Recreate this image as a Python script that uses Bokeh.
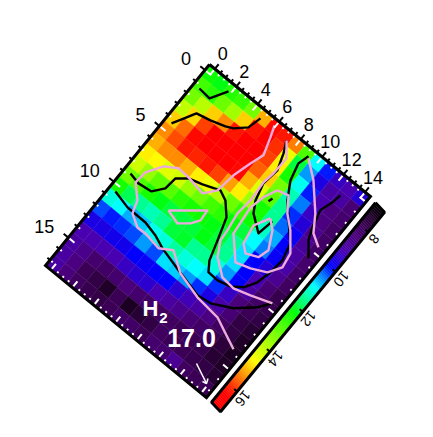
import numpy as np
from bokeh.plotting import figure
from bokeh.models import LinearColorMapper
from bokeh.transform import transform
from bokeh.core.properties import value
from bokeh.embed import file_html
from bokeh.resources import INLINE

x_ticks = [0, 2, 4, 6, 8, 10, 12, 14]
y_ticks = [0, 5, 10, 15]
bar_ticks = [8, 10, 12, 14, 16]
species = "H"
species_sub = "2"
wavelength = "17.0"
vmin, vmax = 7.0, 17.0

row00 = [12.4,12.2,12.6,12.8,13.4,15.2,16.3,16.2,15.5,13.0,11.0,10.1,9.4,9.2,9.6]
row01 = [12.9,12.7,13.3,13.8,15.0,16.2,16.5,16.0,14.5,12.0,10.6,9.7,9.1,9.0,8.4]
row02 = [13.4,14.0,15.0,15.4,16.2,16.6,16.6,15.9,14.8,12.5,11.1,10.1,9.2,8.6,8.3]
row03 = [14.1,14.9,15.9,16.5,16.9,16.9,16.7,15.7,15.0,13.4,11.4,10.5,9.4,8.6,8.2]
row04 = [15.0,15.6,16.3,16.7,17.0,16.8,16.3,15.2,14.4,13.1,11.6,10.2,9.6,8.7,8.2]
row05 = [15.4,15.8,16.2,16.1,16.2,15.9,15.3,14.8,13.8,12.5,11.6,10.4,9.9,8.9,8.2]
row06 = [15.2,15.4,15.4,15.2,14.8,14.5,13.9,13.3,12.8,12.4,11.3,10.7,10.0,9.0,8.3]
row07 = [14.8,14.7,14.4,14.3,13.7,13.3,12.9,12.7,12.3,12.0,11.0,10.5,9.9,9.1,8.2]
row08 = [14.2,13.7,13.2,13.1,12.7,12.5,12.4,12.2,12.0,11.6,10.9,10.0,9.6,8.8,8.1]
row09 = [13.4,13.0,12.5,12.2,12.0,12.0,12.0,12.2,12.0,11.6,10.9,10.0,9.2,8.4,7.9]
row10 = [12.5,11.9,11.6,11.4,11.6,12.0,12.1,11.6,11.6,11.2,10.6,10.0,9.0,8.2,7.9]
row11 = [11.2,11.0,10.7,10.8,11.1,11.2,11.5,11.2,11.0,10.9,10.2,9.4,8.5,8.0,7.8]
row12 = [10.3,10.1,10.2,10.3,10.6,10.3,10.9,10.8,10.6,10.2,9.7,9.1,8.4,7.8,7.6]
row13 = [9.7,9.7,9.8,9.8,10.0,9.9,10.0,10.0,9.5,9.3,9.0,8.6,8.1,7.8,7.5]
row14 = [9.2,9.2,9.2,9.2,9.4,9.5,9.5,9.2,9.0,8.7,8.4,8.2,8.0,7.7,7.4]
row15 = [9.0,8.7,8.3,8.2,8.3,8.5,8.3,8.2,8.1,8.1,8.0,8.0,7.9,7.6,7.5]
row16 = [9.0,8.6,8.0,7.8,7.5,8.0,7.4,7.6,7.8,8.1,8.0,8.0,7.9,7.8,7.6]
row17 = [9.0,8.5,8.1,7.9,7.8,8.0,8.2,8.2,8.0,8.3,8.3,8.8,8.1,8.0,8.0]
rows = [row00,row01,row02,row03,row04,row05,row06,row07,row08,row09,row10,row11,row12,row13,row14,row15,row16,row17]

black1 = [(.53,1.73),(1.55,1.82),(2.29,.61)]
black2 = [(.56,4.83),(1.01,4.04),(1.50,3.20),(2.60,2.96),(3.71,2.62),(4.25,2.37),(5.04,1.66),(5.30,.65)]
black3 = [(.55,9.32),(1.45,9.50),(2.54,9.36),(3.18,8.59),(3.29,7.61),(4.02,7.03),(5.07,6.74),(6.34,6.27),(7.08,6.59),
          (7.91,7.45),(8.46,9.08),(8.92,10.51),(9.40,11.19),(10.28,11.23),(11.27,10.98),(12.05,10.45),(12.60,9.57),
          (12.86,8.47),(12.99,7.30),(12.66,6.03),(11.51,4.88),(10.54,3.86),(9.80,2.66),(9.47,1.39),(9.71,.57)]
black4 = [(7.76,.68),(8.18,1.51),(8.61,2.69),(8.42,4.00),(8.76,5.27),(9.24,6.05),(10.42,6.90),(10.66,5.65)]
black5 = [(.53,10.95),(1.93,11.27),(3.62,11.29),(4.77,11.55),(5.75,11.93),(7.64,12.40),(9.84,12.91),(10.93,12.77),
          (12.44,12.02),(13.74,10.91),(14.39,10.04)]
black6 = [(9.52,4.74),(9.62,4.41)]
black7 = [(13.27,1.26),(13.14,1.99),(12.83,2.95),(13.17,4.21),(13.53,5.07),(14.35,6.04)]

pink1 = [(6.41,.41),(6.72,1.23),(7.15,2.50),(6.79,3.51),(6.39,4.89),(6.18,6.40),(5.48,7.22),(3.97,6.98),(3.00,6.93),
         (2.07,7.49),(1.34,8.61),(1.24,9.58),(2.17,10.46),(2.48,11.38),(3.40,11.91),(4.12,11.88),(5.52,12.10),
         (6.45,11.55),(7.89,12.48),(9.93,13.02),(11.96,13.21),(13.13,13.72),(14.31,14.22)]
pink2 = [(4.35,9.63),(6.53,7.92),(6.60,8.76),(6.17,9.36),(5.44,9.93),(4.35,9.63)]
pink3 = [(7.76,.68),(8.58,1.65),(8.53,3.02),(8.38,3.94),(8.48,5.49),(8.34,6.76),(8.55,8.11),(8.62,8.95),(9.23,9.99),
         (10.42,10.85),(11.53,10.95),(12.80,10.58),(14.39,10.04)]
pink4 = [(9.52,3.76),(10.37,3.54),(11.13,4.56),(12.07,5.34),(13.12,6.57),(13.31,7.67),(12.70,8.60),(11.57,9.13),
         (10.46,9.47),(9.03,8.00),(8.98,7.51),(8.80,5.86),(9.06,4.75),(9.52,3.76)]
pink5 = [(10.41,5.57),(9.79,6.69),(10.04,8.09),(10.61,8.55),(11.51,8.18),(11.75,7.37),(11.07,6.13),(10.41,5.57)]
pink6 = [(9.80,.68),(11.08,1.64),(12.69,3.33),(13.49,4.48),(14.41,5.01)]

# colour table (value, hex)
stop_vals = [7.0, 7.5, 8.0, 8.5, 9.2, 10.0, 10.5, 11.0, 11.6, 12.3, 13.5, 14.7, 15.3, 16.0, 16.4, 17.0]
stop_cols = ["#000000","#22002c","#3c0058","#4a007c","#4800b0","#0000ff","#0080ff","#00ffff","#00ff90","#00ff00",
             "#80ff00","#ffff00","#ffa000","#ff3000","#ff0000","#ff0000"]
def rgb(h):
    return [int(h[i:i+2], 16) for i in (1, 3, 5)]
lv = np.linspace(vmin, vmax, 256)
arr = np.array([rgb(c) for c in stop_cols], float)
palette = ["#%02x%02x%02x" % tuple(int(round(np.interp(l, stop_vals, arr[:, k]))) for k in range(3)) for l in lv]
mapper = LinearColorMapper(palette=palette, low=vmin, high=vmax)

W, H = 425, 429
p = figure(width=W, height=H, x_range=(0, W), y_range=(H, 0), output_backend="svg",
           toolbar_location=None, min_border=0, outline_line_color=None)
p.axis.visible = False
p.grid.visible = False

O = np.array([209.0, 64.0]); UV = np.array([10.73, 8.8]); VV = np.array([-9.11, 11.17])
def pos(u, v):
    return O + u * UV + v * VV
xs, ys, vals = [], [], []
for j, r in enumerate(rows):
    for i, val in enumerate(r):
        c = [pos(i, j), pos(i + 1, j), pos(i + 1, j + 1), pos(i, j + 1)]
        xs.append([q[0] for q in c]); ys.append([q[1] for q in c]); vals.append(val)
p.patches("x", "y", source=dict(x=xs, y=ys, v=vals), fill_color=transform("v", mapper),
          line_color=transform("v", mapper), line_width=0.4)

def draw(path, color):
    q = [pos(u, v) for u, v in path]
    p.line([a[0] for a in q], [a[1] for a in q], line_color=color, line_width=2.4, line_join="round")
for c in (black1, black2, black3, black4, black5, black6, black7):
    draw(c, "black")
for c in (pink1, pink2, pink3, pink4, pink5, pink6):
    draw(c, "#eeaadd")

nU = UV / np.hypot(*UV); nV = VV / np.hypot(*VV)
def tick_set(points, direction, length, color, width):
    xs0 = [[a[0], a[0] + direction[0] * length] for a in points]
    ys0 = [[a[1], a[1] + direction[1] * length] for a in points]
    p.multi_line(xs0, ys0, line_color=color, line_width=width)

ux = [t / 2 for t in range(0, 29)]
uM = [t for t in ux if t in x_ticks]
um = [t for t in ux if t not in x_ticks]
vy = list(range(0, 18))
vM = [t for t in vy if t in y_ticks]
vm = [t for t in vy if t not in y_ticks]

# white inner ticks
tick_set([pos(t + .5, 0) + nV * 1.5 for t in uM], nV, 6.5, "white", 2)
tick_set([pos(t + .5, 0) + nV * 1.5 for t in um], nV, 2, "white", 2)
tick_set([pos(0, t + .5) + nU * 1.5 for t in vM], nU, 6.5, "white", 2)
tick_set([pos(0, t + .5) + nU * 1.5 for t in vm], nU, 2, "white", 2)
tick_set([pos(t + .5, 18) - nV * 1.5 for t in uM], -nV, 6.5, "white", 2)
tick_set([pos(t + .5, 18) - nV * 1.5 for t in um], -nV, 2, "white", 2)
tick_set([pos(15, t + .5) - nU * 1.5 for t in vM], -nU, 6.5, "white", 2)
tick_set([pos(15, t + .5) - nU * 1.5 for t in vm], -nU, 2, "white", 2)
# black outer ticks
tick_set([pos(t + .5, 0) for t in uM], -nV, 6, "black", 2)
tick_set([pos(t + .5, 0) for t in um], -nV, 3.5, "black", 2)
tick_set([pos(0, t + .5) for t in vM], -nU, 6, "black", 2)
tick_set([pos(0, t + .5) for t in vm], -nU, 3.5, "black", 2)

corners = [pos(0, 0), pos(15, 0), pos(15, 18), pos(0, 18), pos(0, 0)]
p.line([a[0] for a in corners], [a[1] for a in corners], line_color="black", line_width=3, line_join="miter")

font = value("Liberation Sans")
for t in x_ticks:
    a = pos(t + .5, 0)
    p.text([a[0] + 8], [a[1] - 15], text=[str(t)], text_font=font, text_font_size="18px",
           text_align="center", text_baseline="middle", text_color="black")
for t in y_ticks:
    a = pos(0, t + .5)
    p.text([a[0] - 14], [a[1] - 11.5], text=[str(t)], text_font=font, text_font_size="18px",
           text_align="right", text_baseline="middle", text_color="black")

# colour bar
bar_lo = np.array([215.5, 406.5]); bar_hi = np.array([379.5, 207.0]); bar_half = np.array([4.5, 4.7])
def bpos(val):
    return bar_lo + (val - vmax) / (vmin - vmax) * (bar_hi - bar_lo)
edges = np.linspace(vmin, vmax, 129)
bxs, bys, bvs = [], [], []
for a, b in zip(edges[:-1], edges[1:]):
    c = [bpos(a) - bar_half, bpos(b) - bar_half, bpos(b) + bar_half, bpos(a) + bar_half]
    bxs.append([q[0] for q in c]); bys.append([q[1] for q in c]); bvs.append((a + b) / 2)
p.patches("x", "y", source=dict(x=bxs, y=bys, v=bvs), fill_color=transform("v", mapper),
          line_color=transform("v", mapper), line_width=0.4)
bc = [bpos(vmin) - bar_half, bpos(vmax) - bar_half, bpos(vmax) + bar_half, bpos(vmin) + bar_half, bpos(vmin) - bar_half]
p.line([q[0] for q in bc], [q[1] for q in bc], line_color="black", line_width=3)
for t in bar_ticks:
    a = bpos(t) + bar_half
    b = a - bar_half * 0.6
    p.line([a[0], b[0]], [a[1], b[1]], line_color="black", line_width=2)
    p.text([bpos(t)[0] + 10.5], [bpos(t)[1] + 11.5], text=[str(t)], text_font=font, text_font_size="14px",
           angle=230.6, angle_units="deg", text_align="center", text_baseline="middle", text_color="black")

# annotations
bold = dict(text_font=font, text_font_style="bold", text_color="white", text_align="center", text_baseline="middle")
p.text([150], [308], text=[species], text_font_size="22px", **bold)
p.text([163], [317], text=[species_sub], text_font_size="15px", **bold)
p.text([191], [337], text=[wavelength], text_font_size="25px", **bold)
p.line([196, 206], [363, 383], line_color="white", line_width=1.5)
p.line([202, 206, 207.5], [381, 383, 378], line_color="white", line_width=1.5)

open("out.html", "w").write(file_html(p, INLINE))
